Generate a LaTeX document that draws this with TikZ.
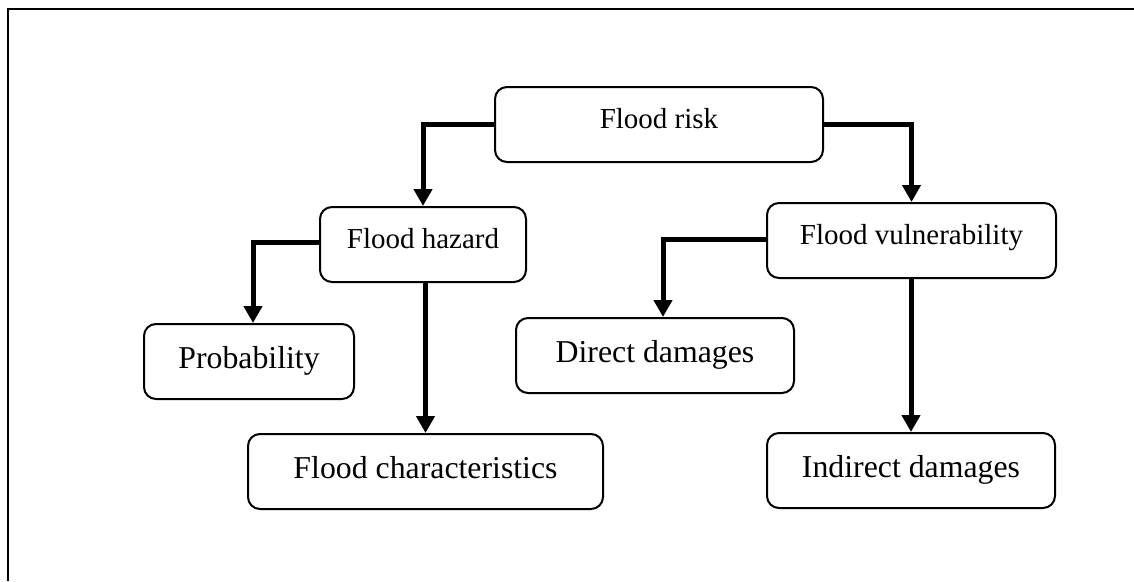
\documentclass[tikz,border=0pt]{standalone}
\usepackage{fontspec}
\setmainfont{Liberation Serif}
\usetikzlibrary{arrows.meta}
\tikzset{
  box/.style={draw, line width=2pt, rounded corners=12pt, inner sep=0pt, align=center, minimum height=75pt},
  upper/.style={box, font=\fontsize{29}{34}\selectfont, text height=10pt, text depth=3pt},
  lower/.style={box, font=\fontsize{31.8}{38}\selectfont, text height=16pt, text depth=3pt},
  link/.style={line width=5pt, -{Triangle[width=18pt,length=17pt]}},
  frameline/.style={line width=2.5pt},
}
\begin{document}
\begin{tikzpicture}[x=1pt,y=-1pt]
\useasboundingbox (0,0) rectangle (1134,581);

% frame
\coordinate (fbl) at (8,581);
\coordinate (ftl) at (8,9);
\coordinate (ftr) at (1134,9);
\draw[frameline] (fbl) -- (ftl) -- (ftr);

% boxes
\node[upper, minimum width=328pt] (risk)   at (659,124.5)   {Flood risk};
\node[upper, minimum width=206pt] (hazard) at (423,244.5)   {Flood hazard};
\node[upper, minimum width=289pt] (vuln)   at (911.5,240.5) {Flood vulnerability};
\node[lower, minimum width=210pt] (prob)   at (249,361.5)   {Probability};
\node[lower, minimum width=355pt] (chars)  at (425.5,471.5) {Flood characteristics};
\node[lower, minimum width=278pt] (direct) at (655,355.5)   {Direct damages};
\node[lower, minimum width=288pt] (indir)  at (911,470.5)   {Indirect damages};

% connectors
\draw[link] (risk.west) -| (hazard.north);
\draw[link] (risk.east) -| (vuln.north);
\draw[link] ([yshift=2.5pt]hazard.west) -| ([xshift=4pt]prob.north);
\draw[link] (chars.north |- hazard.south) -- (chars.north);
\coordinate (dtop) at ([xshift=8pt]direct.north);
\draw[link] ([yshift=1.5pt]vuln.west) -| (dtop);
\draw[link] (indir.north |- vuln.south) -- (indir.north);
\end{tikzpicture}
\end{document}
